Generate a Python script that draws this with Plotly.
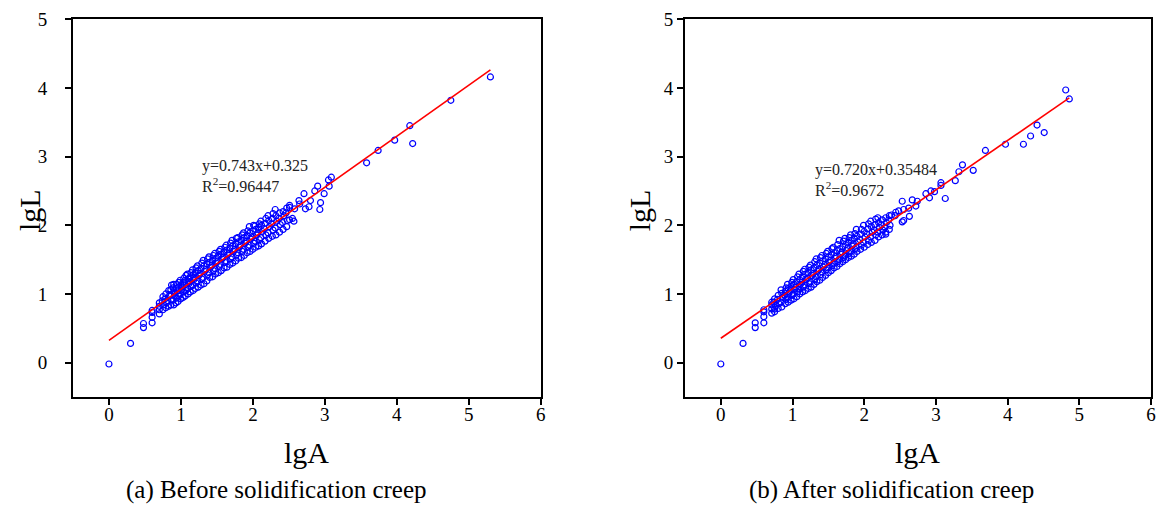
import plotly.graph_objects as go

# (a) before solidification creep -- lgA / lgL, column by column
lgA_before = [
    0.00, 0.30, 0.48, 0.48, 0.60, 0.60, 0.60, 0.60, 0.70, 0.70, 0.70, 0.70,
    0.75, 0.76, 0.74, 0.75,
    0.79, 0.80, 0.78, 0.79,
    0.83, 0.82, 0.84, 0.83,
    0.86, 0.87, 0.85, 0.86, 0.87,
    0.90, 0.89, 0.91, 0.90, 0.89, 0.90,
    0.93, 0.94, 0.92, 0.93, 0.94,
    0.96, 0.97, 0.95, 0.96, 0.97,
    1.00, 0.99, 1.01, 1.00, 0.99,
    1.03, 1.04, 1.02, 1.03, 1.04,
    1.06, 1.07, 1.05, 1.06, 1.07,
    1.10, 1.09, 1.11, 1.10, 1.09,
    1.13, 1.14, 1.12, 1.13, 1.14,
    1.17, 1.16, 1.18, 1.17, 1.16,
    1.20, 1.21, 1.19, 1.20, 1.21,
    1.24, 1.23, 1.25, 1.24, 1.23,
    1.28, 1.29, 1.27, 1.28, 1.29,
    1.32, 1.31, 1.33, 1.32, 1.31,
    1.36, 1.37, 1.35, 1.36, 1.37,
    1.40, 1.39, 1.41, 1.40, 1.39,
    1.44, 1.45, 1.43, 1.44, 1.45,
    1.48, 1.47, 1.49, 1.48, 1.47,
    1.52, 1.53, 1.51, 1.52, 1.53,
    1.56, 1.55, 1.57, 1.56, 1.55,
    1.60, 1.61, 1.59, 1.60, 1.61,
    1.64, 1.63, 1.65, 1.64, 1.63,
    1.68, 1.69, 1.67, 1.68, 1.69,
    1.72, 1.71, 1.73, 1.72, 1.71,
    1.76, 1.77, 1.75, 1.76, 1.77,
    1.80, 1.79, 1.81, 1.80, 1.79,
    1.84, 1.85, 1.83, 1.84, 1.85,
    1.88, 1.87, 1.89, 1.88, 1.87,
    1.92, 1.93, 1.91, 1.92, 1.93,
    1.96, 1.95, 1.97, 1.96, 1.95,
    2.00, 2.01, 1.99, 2.00, 2.01,
    2.04, 2.03, 2.05, 2.04, 2.03,
    2.08, 2.09, 2.07, 2.08, 2.09,
    2.12, 2.11, 2.13, 2.12, 2.11,
    2.17, 2.18, 2.16, 2.17, 2.18,
    2.22, 2.21, 2.23, 2.22, 2.21,
    2.27, 2.28, 2.26, 2.27, 2.28,
    2.32, 2.31, 2.33, 2.32, 2.31,
    2.37, 2.38, 2.36, 2.37,
    2.42, 2.41, 2.43, 2.42,
    2.47, 2.48, 2.46, 2.47,
    2.51, 2.51, 2.51, 2.55, 2.57, 2.58, 2.64, 2.65, 2.71, 2.73, 2.78, 2.80,
    2.86, 2.90, 2.93, 2.94, 2.99, 3.05, 3.06, 3.09, 3.58, 3.74, 3.97, 4.18,
    4.22, 4.75, 5.30,
]
lgL_before = [
    -0.02, 0.28, 0.51, 0.57, 0.58, 0.66, 0.73, 0.76, 0.71, 0.77, 0.82, 0.87,
    0.77, 0.84, 0.90, 0.96,
    0.80, 0.87, 0.93, 1.00,
    0.82, 0.90, 0.97, 1.05,
    0.84, 0.92, 0.99, 1.06, 1.13,
    0.84, 0.91, 0.97, 1.03, 1.09, 1.14,
    0.87, 0.94, 1.01, 1.08, 1.14,
    0.89, 0.97, 1.04, 1.10, 1.17,
    0.93, 1.00, 1.06, 1.13, 1.20,
    0.95, 1.03, 1.10, 1.17, 1.23,
    0.97, 1.05, 1.13, 1.20, 1.27,
    1.00, 1.08, 1.15, 1.22, 1.29,
    1.03, 1.11, 1.18, 1.25, 1.31,
    1.05, 1.13, 1.21, 1.28, 1.35,
    1.08, 1.16, 1.24, 1.31, 1.38,
    1.10, 1.19, 1.27, 1.34, 1.41,
    1.13, 1.22, 1.30, 1.37, 1.45,
    1.15, 1.24, 1.33, 1.41, 1.49,
    1.19, 1.28, 1.36, 1.44, 1.51,
    1.24, 1.31, 1.39, 1.46, 1.54,
    1.25, 1.34, 1.42, 1.49, 1.56,
    1.29, 1.37, 1.45, 1.52, 1.59,
    1.31, 1.40, 1.48, 1.55, 1.62,
    1.34, 1.43, 1.51, 1.58, 1.65,
    1.38, 1.46, 1.54, 1.61, 1.68,
    1.39, 1.48, 1.57, 1.64, 1.71,
    1.43, 1.51, 1.60, 1.67, 1.74,
    1.45, 1.54, 1.62, 1.70, 1.78,
    1.48, 1.57, 1.65, 1.73, 1.81,
    1.52, 1.60, 1.68, 1.76, 1.82,
    1.53, 1.62, 1.71, 1.78, 1.86,
    1.56, 1.65, 1.74, 1.82, 1.89,
    1.60, 1.68, 1.77, 1.85, 1.92,
    1.62, 1.71, 1.80, 1.89, 1.98,
    1.65, 1.74, 1.83, 1.92, 2.00,
    1.68, 1.77, 1.86, 1.94, 1.99,
    1.70, 1.79, 1.89, 1.97, 2.02,
    1.73, 1.82, 1.91, 2.00, 2.06,
    1.77, 1.86, 1.95, 2.03, 2.10,
    1.81, 1.89, 1.98, 2.07, 2.14,
    1.84, 1.93, 2.02, 2.10, 2.17,
    1.86, 1.96, 2.06, 2.14, 2.23,
    1.90, 2.01, 2.10, 2.18,
    1.94, 2.04, 2.14, 2.20,
    1.98, 2.07, 2.18, 2.25,
    2.08, 2.26, 2.29, 2.10, 2.06, 2.24, 2.36, 2.31, 2.46, 2.24, 2.27, 2.36,
    2.50, 2.57, 2.23, 2.33, 2.46, 2.66, 2.57, 2.70, 2.91, 3.09, 3.24, 3.45,
    3.19, 3.82, 4.16,
]

# (b) after solidification creep
lgA_after = [
    0.00, 0.31, 0.48, 0.48, 0.60, 0.60, 0.60, 0.60, 0.71, 0.71, 0.71, 0.71,
    0.75, 0.75, 0.76, 0.74, 0.75,
    0.80, 0.81, 0.79, 0.80,
    0.85, 0.84, 0.86, 0.85, 0.84,
    0.90, 0.91, 0.89, 0.90, 0.91,
    0.94, 0.93, 0.95, 0.94, 0.93,
    0.98, 0.99, 0.97, 0.98, 0.99,
    1.02, 1.01, 1.03, 1.02, 1.01,
    1.06, 1.07, 1.05, 1.06, 1.07,
    1.10, 1.09, 1.11, 1.10, 1.09,
    1.14, 1.15, 1.13, 1.14, 1.15,
    1.18, 1.17, 1.19, 1.18, 1.17,
    1.22, 1.23, 1.21, 1.22, 1.23,
    1.26, 1.25, 1.27, 1.26, 1.25,
    1.30, 1.31, 1.29, 1.30, 1.31,
    1.34, 1.33, 1.35, 1.34, 1.33,
    1.38, 1.39, 1.37, 1.38, 1.39,
    1.42, 1.41, 1.43, 1.42, 1.41,
    1.46, 1.47, 1.45, 1.46, 1.47,
    1.50, 1.49, 1.51, 1.50, 1.49,
    1.54, 1.55, 1.53, 1.54, 1.55,
    1.58, 1.57, 1.59, 1.58, 1.57,
    1.62, 1.63, 1.61, 1.62, 1.63,
    1.66, 1.65, 1.67, 1.66, 1.65,
    1.70, 1.71, 1.69, 1.70, 1.71,
    1.74, 1.73, 1.75, 1.74, 1.73,
    1.78, 1.79, 1.77, 1.78, 1.79,
    1.82, 1.81, 1.83, 1.82, 1.81,
    1.86, 1.87, 1.85, 1.86, 1.87,
    1.90, 1.89, 1.91, 1.90, 1.89,
    1.95, 1.96, 1.94, 1.95, 1.96,
    2.00, 1.99, 2.01, 2.00, 1.99,
    2.05, 2.06, 2.04, 2.05, 2.06,
    2.10, 2.09, 2.11, 2.10, 2.09,
    2.15, 2.16, 2.14, 2.15, 2.16,
    2.20, 2.19, 2.21, 2.20, 2.19,
    2.25, 2.26, 2.24, 2.25,
    2.30, 2.29, 2.31, 2.30,
    2.35, 2.36, 2.34, 2.35,
    2.30, 2.38, 2.43, 2.44, 2.48, 2.53, 2.53, 2.55, 2.55, 2.62, 2.63, 2.67,
    2.72, 2.74, 2.86, 2.91, 2.93, 2.98, 3.07, 3.07, 3.13, 3.27, 3.32, 3.37,
    3.52, 3.69, 3.97, 4.22, 4.32, 4.41, 4.51, 4.81, 4.86,
]
lgL_after = [
    -0.02, 0.28, 0.51, 0.58, 0.58, 0.67, 0.74, 0.77, 0.72, 0.78, 0.84, 0.88,
    0.74, 0.78, 0.83, 0.88, 0.93,
    0.79, 0.86, 0.92, 0.98,
    0.81, 0.88, 0.95, 1.01, 1.06,
    0.86, 0.92, 0.98, 1.04, 1.09,
    0.88, 0.95, 1.01, 1.08, 1.14,
    0.91, 0.98, 1.05, 1.11, 1.17,
    0.93, 1.00, 1.07, 1.14, 1.21,
    0.96, 1.03, 1.10, 1.18, 1.25,
    1.00, 1.07, 1.14, 1.21, 1.29,
    1.03, 1.10, 1.17, 1.25, 1.33,
    1.05, 1.13, 1.21, 1.29, 1.36,
    1.08, 1.15, 1.23, 1.31, 1.39,
    1.10, 1.18, 1.27, 1.35, 1.42,
    1.14, 1.21, 1.30, 1.38, 1.47,
    1.18, 1.25, 1.33, 1.42, 1.51,
    1.20, 1.28, 1.36, 1.45, 1.53,
    1.24, 1.32, 1.39, 1.48, 1.56,
    1.27, 1.35, 1.43, 1.51, 1.59,
    1.31, 1.38, 1.46, 1.54, 1.62,
    1.34, 1.41, 1.49, 1.57, 1.66,
    1.38, 1.44, 1.52, 1.60, 1.68,
    1.40, 1.47, 1.55, 1.63, 1.72,
    1.44, 1.50, 1.58, 1.66, 1.78,
    1.47, 1.53, 1.61, 1.69, 1.77,
    1.50, 1.56, 1.63, 1.72, 1.81,
    1.53, 1.59, 1.67, 1.75, 1.82,
    1.55, 1.62, 1.70, 1.78, 1.86,
    1.58, 1.65, 1.73, 1.81, 1.88,
    1.62, 1.68, 1.76, 1.84, 1.94,
    1.65, 1.71, 1.79, 1.87, 1.94,
    1.68, 1.75, 1.83, 1.91, 2.00,
    1.72, 1.78, 1.87, 1.95, 2.02,
    1.75, 1.83, 1.90, 1.98, 2.06,
    1.78, 1.86, 1.93, 2.01, 2.09,
    1.83, 1.90, 1.97, 2.04, 2.11,
    1.86, 1.93, 2.01, 2.08,
    1.90, 1.97, 2.04, 2.11,
    1.94, 2.00, 2.08, 2.14,
    1.87, 2.15, 2.14, 2.19, 2.21, 2.35, 2.05, 2.23, 2.07, 2.25, 2.13, 2.37,
    2.28, 2.35, 2.46, 2.40, 2.50, 2.49, 2.62, 2.58, 2.39, 2.65, 2.78, 2.88,
    2.80, 3.09, 3.18, 3.18, 3.30, 3.46, 3.35, 3.97, 3.84,
]

assert len(lgA_before) == len(lgL_before)
assert len(lgA_after) == len(lgL_after)

# fitted lines as printed in the figure
slope = [0.743, 0.720]
intercept = [0.325, 0.35484]
fit_span = [(0.0, 5.30), (0.0, 4.86)]
fit_text = ["y=0.743x+0.325<br>R<sup>2</sup>=0.96447",
            "y=0.720x+0.35484<br>R<sup>2</sup>=0.9672"]
captions = ["(a) Before solidification creep", "(b) After solidification creep"]

SERIF = "Liberation Serif, Times New Roman, serif"

fig = go.Figure()

panels = [(lgA_before, lgL_before, "x", "y"), (lgA_after, lgL_after, "x2", "y2")]
for i, (xs, ys, xa, ya) in enumerate(panels):
    fig.add_trace(go.Scatter(
        x=xs, y=ys, mode="markers", xaxis=xa, yaxis=ya,
        marker=dict(symbol="circle-open", size=6, color="#0000ff",
                    line=dict(width=1.2, color="#0000ff")),
        showlegend=False,
    ))
    x0, x1 = fit_span[i]
    fig.add_trace(go.Scatter(
        x=[x0, x1], y=[slope[i] * x0 + intercept[i], slope[i] * x1 + intercept[i]],
        mode="lines", xaxis=xa, yaxis=ya,
        line=dict(color="#ff0000", width=1.6),
        showlegend=False,
    ))

axis_common = dict(
    showline=True, linecolor="black", linewidth=2, mirror=True,
    ticks="outside", ticklen=6, tickwidth=2, tickcolor="black",
    showgrid=False, zeroline=False, automargin=False,
    tickfont=dict(family=SERIF, size=19, color="black"),
)

fig.update_layout(
    width=1158, height=507,
    margin=dict(l=0, r=0, t=0, b=0, pad=0),
    paper_bgcolor="white", plot_bgcolor="white",
    xaxis=dict(domain=[0.063, 0.467], range=[-0.5, 6], tickvals=[0, 1, 2, 3, 4, 5, 6],
               anchor="y", ticklabelstandoff=-7, **axis_common),
    yaxis=dict(domain=[0.217, 0.962], range=[-0.5, 5], tickvals=[0, 1, 2, 3, 4, 5],
               anchor="x", ticklabelstandoff=14, **axis_common),
    xaxis2=dict(domain=[0.5915, 0.994], range=[-0.5, 6], tickvals=[0, 1, 2, 3, 4, 5, 6],
                anchor="y2", ticklabelstandoff=-7, **axis_common),
    yaxis2=dict(domain=[0.217, 0.962], range=[-0.5, 5], tickvals=[0, 1, 2, 3, 4, 5],
                anchor="x2", ticklabelstandoff=0, **axis_common),
)

# equation labels
for i, (xr, yr) in enumerate([("x", "y"), ("x2", "y2")]):
    fig.add_annotation(
        x=[1.27, 1.29][i], y=[2.72, 2.66][i], xref=xr, yref=yr,
        text=fit_text[i], showarrow=False, xanchor="left", yanchor="middle",
        align="left", font=dict(family=SERIF, size=16, color="#222222"),
    )

# axis titles and captions (placed in paper space like the original figure)
for k, (cx, cap_x) in enumerate([(0.265, 0.239), (0.7925, 0.770)]):
    fig.add_annotation(x=cx, y=0.108, xref="paper", yref="paper", text="lgA",
                       xanchor="center", yanchor="middle",
                       showarrow=False, font=dict(family=SERIF, size=30, color="black"))
    fig.add_annotation(x=cap_x, y=0.033, xref="paper", yref="paper", text=captions[k],
                       xanchor="center", yanchor="middle",
                       showarrow=False, font=dict(family=SERIF, size=25, color="black"))
for lx in [0.026, 0.553]:
    fig.add_annotation(x=lx, y=0.586, xref="paper", yref="paper", text="lgL", textangle=-90,
                       xanchor="center", yanchor="middle",
                       showarrow=False, font=dict(family=SERIF, size=30, color="black"))

# the page's default body margin would push the figure off the window
fig.write_html("out.html", config={"displayModeBar": False},
               post_script="document.body.style.margin='0';")
